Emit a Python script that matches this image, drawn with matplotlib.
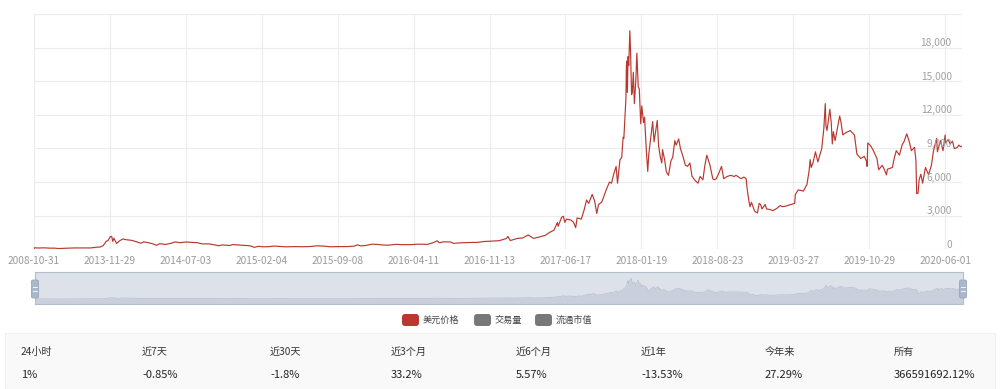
"""Chart: BTC USD price history with slider, legend and period-return table."""

import datetime as dt

import matplotlib
matplotlib.use("Agg")
import matplotlib.pyplot as plt
from matplotlib.patches import FancyBboxPatch, Rectangle

plt.rcParams["font.family"] = ["Noto Sans CJK SC", "DejaVu Sans"]

# price points (category axis, one category per day)
dates = [
    "2008-10-31",
    # 2013
    "2013-04-28", "2013-05-10", "2013-05-25", "2013-06-10", "2013-06-25", "2013-07-05",
    "2013-07-20", "2013-08-05", "2013-08-20", "2013-09-05", "2013-09-25", "2013-10-05",
    "2013-10-20", "2013-11-01", "2013-11-10", "2013-11-18", "2013-11-24", "2013-11-30",
    "2013-12-04", "2013-12-07", "2013-12-10", "2013-12-18", "2013-12-26",
    # 2014
    "2014-01-05", "2014-01-15", "2014-01-28", "2014-02-10", "2014-02-25", "2014-03-05",
    "2014-03-20", "2014-04-01", "2014-04-10", "2014-04-20", "2014-05-05", "2014-05-20",
    "2014-06-03", "2014-06-15", "2014-07-03", "2014-07-20", "2014-08-05", "2014-08-18",
    "2014-09-05", "2014-09-22", "2014-10-05", "2014-10-15", "2014-11-05", "2014-11-13",
    "2014-11-30", "2014-12-15", "2014-12-31",
    # 2015
    "2015-01-05", "2015-01-14", "2015-01-26", "2015-02-10", "2015-02-25", "2015-03-10",
    "2015-03-30", "2015-04-14", "2015-05-05", "2015-05-30", "2015-06-20", "2015-07-12",
    "2015-07-30", "2015-08-18", "2015-09-10", "2015-10-05", "2015-10-25", "2015-11-04",
    "2015-11-11", "2015-11-25", "2015-12-15", "2015-12-31",
    # 2016
    "2016-01-15", "2016-02-01", "2016-02-20", "2016-03-10", "2016-04-01", "2016-04-25",
    "2016-05-20", "2016-06-05", "2016-06-17", "2016-06-23", "2016-07-05", "2016-07-25",
    "2016-08-02", "2016-08-25", "2016-09-20", "2016-10-10", "2016-10-30", "2016-11-20",
    "2016-12-10", "2016-12-31",
    # 2017
    "2017-01-04", "2017-01-11", "2017-01-31", "2017-02-15", "2017-03-03", "2017-03-18",
    "2017-04-01", "2017-04-20", "2017-05-05", "2017-05-15", "2017-05-25", "2017-05-27",
    "2017-06-06", "2017-06-11", "2017-06-15", "2017-06-20", "2017-07-03", "2017-07-10",
    "2017-07-16", "2017-07-20", "2017-08-01", "2017-08-08", "2017-08-16", "2017-08-22",
    "2017-09-01", "2017-09-08", "2017-09-14", "2017-09-19", "2017-09-28", "2017-10-12",
    "2017-10-20", "2017-10-26", "2017-11-01", "2017-11-08", "2017-11-12", "2017-11-19",
    "2017-11-24", "2017-11-28", "2017-11-30", "2017-12-06", "2017-12-07", "2017-12-08",
    "2017-12-10", "2017-12-12", "2017-12-14", "2017-12-17", "2017-12-19", "2017-12-22",
    "2017-12-24", "2017-12-27", "2017-12-30",
    # 2018
    "2018-01-03", "2018-01-06", "2018-01-10", "2018-01-13", "2018-01-17", "2018-01-20",
    "2018-01-25", "2018-01-28", "2018-02-02", "2018-02-06", "2018-02-09", "2018-02-15",
    "2018-02-20", "2018-02-24", "2018-03-05", "2018-03-09", "2018-03-14", "2018-03-18",
    "2018-03-20", "2018-03-26", "2018-03-31", "2018-04-06", "2018-04-13", "2018-04-18",
    "2018-04-24", "2018-04-28", "2018-05-05", "2018-05-10", "2018-05-18", "2018-05-24",
    "2018-05-30", "2018-06-06", "2018-06-12", "2018-06-22", "2018-06-29", "2018-07-05",
    "2018-07-13", "2018-07-18", "2018-07-24", "2018-08-02", "2018-08-10", "2018-08-14",
    "2018-08-20", "2018-08-26", "2018-09-04", "2018-09-10", "2018-09-20", "2018-09-30",
    "2018-10-10", "2018-10-15", "2018-10-30", "2018-11-06", "2018-11-13", "2018-11-15",
    "2018-11-20", "2018-11-24", "2018-11-28", "2018-12-07", "2018-12-15", "2018-12-20",
    "2018-12-24", "2018-12-28",
    # 2019
    "2019-01-06", "2019-01-10", "2019-01-20", "2019-01-28", "2019-02-08", "2019-02-18",
    "2019-02-24", "2019-03-05", "2019-03-20", "2019-03-31", "2019-04-02", "2019-04-10",
    "2019-04-25", "2019-05-05", "2019-05-11", "2019-05-14", "2019-05-17", "2019-05-22",
    "2019-05-29", "2019-06-05", "2019-06-16", "2019-06-22", "2019-06-26", "2019-06-28",
    "2019-07-01", "2019-07-09", "2019-07-13", "2019-07-16", "2019-07-19", "2019-07-24",
    "2019-08-06", "2019-08-10", "2019-08-15", "2019-08-23", "2019-09-05", "2019-09-17",
    "2019-09-24", "2019-10-05", "2019-10-15", "2019-10-22", "2019-10-23", "2019-10-25",
    "2019-11-03", "2019-11-10", "2019-11-20", "2019-11-25", "2019-12-05", "2019-12-10",
    "2019-12-17", "2019-12-20", "2019-12-25",
    # 2020
    "2020-01-03", "2020-01-08", "2020-01-14", "2020-01-23", "2020-01-31", "2020-02-05",
    "2020-02-13", "2020-02-20", "2020-02-26", "2020-03-06", "2020-03-10", "2020-03-12",
    "2020-03-16", "2020-03-19", "2020-03-24", "2020-03-29", "2020-04-06", "2020-04-15",
    "2020-04-23", "2020-04-29", "2020-05-08", "2020-05-10", "2020-05-19", "2020-05-26",
    "2020-06-01", "2020-06-02", "2020-06-10", "2020-06-15", "2020-06-22", "2020-06-27",
    "2020-07-05", "2020-07-10", "2020-07-15", "2020-07-19",
]

usd_price = [
    0.0025,
    # 2013
    135, 117, 131, 106, 102, 68,
    90, 105, 122, 125, 133, 122,
    180, 205, 330, 700, 800, 1130,
    1150, 700, 1000, 520, 750,
    # 2014
    920, 850, 810, 700, 540, 670,
    580, 480, 360, 500, 430, 520,
    665, 590, 650, 620, 590, 480,
    490, 400, 320, 390, 340, 420,
    380, 350, 320,
    # 2015
    275, 178, 270, 220, 240, 290,
    245, 220, 240, 230, 245, 310,
    285, 225, 240, 240, 285, 400,
    310, 330, 460, 430,
    # 2016
    380, 370, 440, 415, 415, 460,
    440, 580, 760, 580, 670, 655,
    530, 580, 610, 620, 700, 730,
    770, 960,
    # 2017
    1150, 780, 970, 1010, 1280, 970,
    1080, 1240, 1550, 1700, 2400, 2050,
    2860, 2950, 2400, 2700, 2600, 2400,
    1930, 2800, 2700, 3400, 4400, 4100,
    4900, 4300, 3200, 4000, 4200, 5400,
    6000, 5900, 6700, 7400, 5900, 8000,
    8200, 10000, 9900, 13500, 16000, 16800,
    14000, 17200, 16400, 19500, 17800, 13800,
    14000, 15800, 13000,
    # 2018
    15000, 17500, 14500, 14300, 11200, 12800,
    11300, 11800, 8800, 6950, 8500, 10100,
    11400, 9600, 11500, 9200, 8200, 7700,
    8900, 8000, 6900, 6600, 7900, 8200,
    9700, 9300, 9850, 9000, 8200, 7500,
    7400, 7700, 6500, 6100, 5900, 6500,
    6200, 7400, 8400, 7500, 6300, 6200,
    6300, 6700, 7400, 6300, 6500, 6600,
    6500, 6600, 6300, 6450, 6300, 5600,
    4450, 3800, 4200, 3400, 3240, 4100,
    4000, 3600,
    # 2019
    4000, 3600, 3550, 3450, 3650, 3900,
    3800, 3850, 4000, 4100, 4900, 5300,
    5200, 5800, 7000, 8000, 7300, 7700,
    8700, 7800, 9000, 10800, 13000, 11000,
    10600, 12500, 11300, 9400, 10500, 9700,
    11900, 11300, 10200, 10400, 10600, 10200,
    8500, 8100, 8300, 7800, 7400, 9500,
    9200, 8800, 8100, 7100, 7500, 7200,
    6640, 7150, 7200,
    # 2020
    7300, 8100, 8800, 8400, 9350, 9600,
    10300, 9600, 8800, 9100, 7900, 4970,
    5000, 6200, 6700, 5900, 7300, 6650,
    7500, 8800, 9900, 8700, 9700, 8800,
    10200, 9500, 9800, 9400, 9650, 9000,
    9070, 9300, 9150, 9200,
]

tick_dates = ["2008-10-31", "2013-11-29", "2014-07-03", "2015-02-04", "2015-09-08",
              "2016-04-11", "2016-11-13", "2017-06-17", "2018-01-19", "2018-08-23",
              "2019-03-27", "2019-10-29", "2020-06-01"]
last_date = "2020-07-19"
y_ticks = [0, 3000, 6000, 9000, 12000, 15000, 18000, 21000]

legend_labels = ["美元价格", "交易量", "流通市值"]
legend_colors = ["#b9382f", "#787878", "#787878"]

stat_labels = ["24小时", "近7天", "近30天", "近3个月", "近6个月", "近1年", "今年来", "所有"]
stat_values = ["1%", "-0.85%", "-1.8%", "33.2%", "5.57%", "-13.53%", "27.29%",
               "366591692.12%"]

FIRST_DAY = dt.date(2013, 4, 28)


def cat_index(s):
    # first category is the genesis date, then one category per day
    if s == "2008-10-31":
        return 0
    return (dt.date.fromisoformat(s) - FIRST_DAY).days + 1


def main():
    assert len(dates) == len(usd_price)
    xs = [cat_index(d) for d in dates]
    x_end = cat_index(last_date)
    W, H = 1000, 389

    fig = plt.figure(figsize=(10, 3.89), dpi=100)
    fig.patch.set_facecolor("white")

    # main price panel
    ax = fig.add_axes([34 / W, 1 - 249.3 / H, 928 / W, 235.3 / H])
    ax.plot(xs, usd_price, color="#b9382f", lw=0.85, solid_joinstyle="round")
    ax.set_xlim(0, x_end)
    ax.set_ylim(0, 21000)
    ax.set_yticks(y_ticks)
    ax.set_yticklabels([])
    ax.set_xticks([cat_index(t) for t in tick_dates])
    ax.set_xticklabels(tick_dates, fontsize=7.3, color="#9a9a9a")
    ax.tick_params(axis="both", length=0)
    ax.tick_params(axis="x", pad=5)
    ax.grid(True, color="#ececec", lw=0.8)
    ax.axvline(x_end, color="#ececec", lw=0.8)
    ax.set_axisbelow(True)
    for s in ax.spines.values():
        s.set_visible(False)
    for v in y_ticks[:-1]:
        ax.annotate(f"{v:,}", xy=(1, v), xycoords=("axes fraction", "data"),
                    xytext=(-7.4, 3.3), textcoords="offset points",
                    ha="right", va="center", fontsize=7.3, color="#a0a0a0")

    # data-zoom slider
    axs = fig.add_axes([35 / W, 1 - 304 / H, 928 / W, 32 / H])
    axs.set_facecolor("#dde2ea")
    axs.fill_between(xs, usd_price, -4650, color="#c9d0dc", lw=0)
    axs.plot(xs, usd_price, color="#bcc4d1", lw=0.6)
    axs.set_xlim(0, x_end)
    axs.set_ylim(-4650, 25100)
    axs.set_xticks([])
    axs.set_yticks([])
    for s in axs.spines.values():
        s.set_color("#b3bdcc")
        s.set_linewidth(0.8)

    px = fig.dpi_scale_trans  # 1 unit = 100 px
    for hx in (35, 963):
        fig.add_artist(FancyBboxPatch(((hx - 3.5) / 100, (H - 298) / 100), 0.07, 0.18,
                                      boxstyle="round,pad=0,rounding_size=0.015",
                                      transform=px, facecolor="#aab8cc",
                                      edgecolor="#97a6bc", lw=0.6))
        for hy in (287, 291):
            fig.add_artist(plt.Line2D([(hx - 2) / 100, (hx + 2) / 100],
                                      [(H - hy) / 100] * 2, transform=px,
                                      color="white", lw=0.6))

    # legend
    lx = [402, 474, 535]
    for x0, lab, col in zip(lx, legend_labels, legend_colors):
        fig.add_artist(FancyBboxPatch((x0 / 100, (H - 326) / 100), 0.17, 0.12,
                                      boxstyle="round,pad=0,rounding_size=0.03",
                                      transform=px, facecolor=col, edgecolor="none"))
        fig.text((x0 + 21) / W, 1 - 320 / H, lab, fontsize=6.6, color="#444444",
                 ha="left", va="center")

    # period returns table
    fig.add_artist(Rectangle((5 / 100, 0), 9.9, (H - 333) / 100, transform=px,
                             facecolor="#f9f9f9", edgecolor="#f1f1f1", lw=0.8))
    sx = [21, 142, 270, 391, 516, 641, 765, 894]
    for x0, lab, val in zip(sx, stat_labels, stat_values):
        fig.text(x0 / W, 1 - 352 / H, lab, fontsize=7.3, color="#333333",
                 ha="left", va="center")
        fig.text(x0 / W, 1 - 375 / H, val, fontsize=8, color="#222222",
                 ha="left", va="center")

    fig.savefig("out.png", dpi=100, facecolor="white")


if __name__ == "__main__":
    main()
